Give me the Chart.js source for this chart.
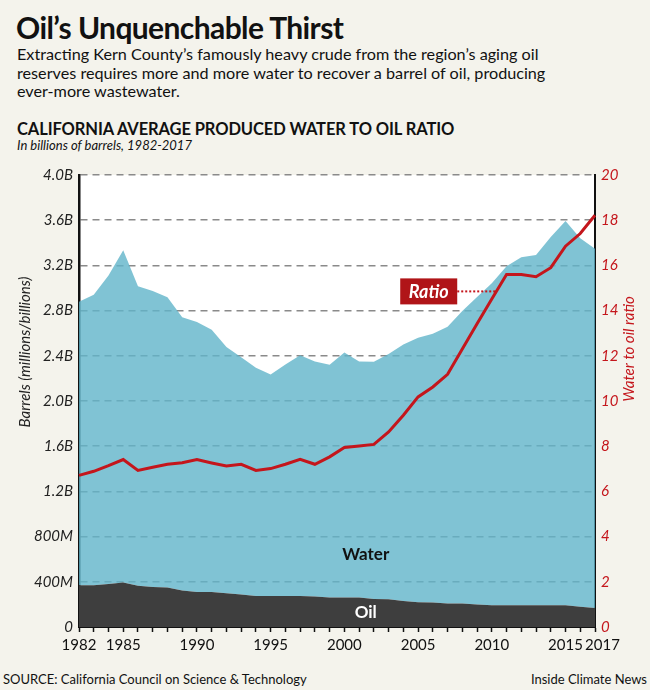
<!DOCTYPE html>
<html>
<head>
<meta charset="utf-8">
<script src="https://cdn.jsdelivr.net/npm/chart.js@4.4.1/dist/chart.umd.min.js"></script>
<style>
  html, body { margin: 0; padding: 0; }
  body { width: 650px; height: 690px; background: #f4f3ec; position: relative; overflow: hidden;
         font-family: Lato, "Open Sans", sans-serif; color: #111; }
  .t { position: absolute; white-space: nowrap; }
  #title { left: 16px; top: 9px; font-size: 30px; font-weight: 700; letter-spacing: -0.6px; }
  #dek { left: 17px; top: 45px; font-size: 16.2px; line-height: 18.5px; }
  #head { left: 17px; top: 119px; font-size: 16.5px; font-weight: 700; letter-spacing: -0.1px; }
  #sub { left: 17px; top: 137px; font-size: 13px; font-style: italic; }
  #src { left: 3px; top: 671px; font-size: 13px; }
  #credit { right: 3px; top: 671px; font-size: 13px; }
  #wrap { position: absolute; left: 0; top: 160px; width: 650px; height: 500px; }
</style>
</head>
<body>
<div class="t" id="title">Oil’s Unquenchable Thirst</div>
<div class="t" id="dek">Extracting Kern County’s famously heavy crude from the region’s aging oil<br>reserves requires more and more water to recover a barrel of oil, producing<br>ever-more wastewater.</div>
<div class="t" id="head">CALIFORNIA AVERAGE PRODUCED WATER TO OIL RATIO</div>
<div class="t" id="sub">In billions of barrels, 1982-2017</div>
<div id="wrap"><canvas id="chart" width="650" height="500"></canvas></div>
<div class="t" id="src">SOURCE: California Council on Science &amp; Technology</div>
<div class="t" id="credit">Inside Climate News</div>

<script>
// years on the x axis
const years = [];
for (let y = 1982; y <= 2017; y++) years.push(y);
const labelledYears = [1982, 1985, 1990, 1995, 2000, 2005, 2010, 2015, 2017];

// billions of barrels
const oil = [0.369, 0.37, 0.38, 0.393, 0.366, 0.354, 0.349, 0.322, 0.31, 0.31,
  0.298, 0.287, 0.274, 0.274, 0.274, 0.274, 0.27, 0.26,
  0.26, 0.26, 0.248, 0.245, 0.23, 0.219, 0.216, 0.207, 0.207, 0.20,
  0.192, 0.192, 0.192, 0.192, 0.192, 0.192, 0.18, 0.168];
const water = [2.51, 2.57, 2.73, 2.94, 2.65, 2.62, 2.57, 2.42, 2.39, 2.32,
  2.18, 2.10, 2.02, 1.96, 2.05, 2.13, 2.08, 2.06,
  2.17, 2.09, 2.10, 2.17, 2.27, 2.34, 2.38, 2.45, 2.59, 2.72,
  2.85, 3.00, 3.08, 3.10, 3.26, 3.40, 3.26, 3.18];
// water to oil ratio
const ratio = [6.71, 6.89, 7.14, 7.41, 6.93, 7.07, 7.20, 7.27, 7.41, 7.26,
  7.12, 7.20, 6.93, 7.01, 7.20, 7.42, 7.20, 7.53,
  7.94, 8.01, 8.08, 8.63, 9.37, 10.18, 10.62, 11.18, 12.3, 13.42,
  14.51, 15.6, 15.6, 15.5, 15.9, 16.85, 17.41, 18.22];

const barrelTicks = ['0', '400M', '800M', '1.2B', '1.6B', '2.0B', '2.4B', '2.8B', '3.2B', '3.6B', '4.0B'];
const ratioTicks = ['0', '2', '4', '6', '8', '10', '12', '14', '16', '18', '20'];

const RED = '#c4161c';
const FONT = 'Lato, "Open Sans", sans-serif';

// white plot background
const plotBg = {
  id: 'plotBg',
  beforeDraw(chart) {
    const { ctx, chartArea: a } = chart;
    ctx.save();
    ctx.fillStyle = '#fff';
    ctx.fillRect(a.left, a.top, a.right - a.left, a.bottom - a.top);
    ctx.restore();
  }
};

// text drawn inside the plot: area names, the "Ratio" call-out, axis titles
const notes = {
  id: 'notes',
  afterDatasetsDraw(chart) {
    const { ctx, scales: { x, y, y1 } } = chart;
    ctx.save();
    ctx.textAlign = 'center';
    ctx.textBaseline = 'middle';
    ctx.font = 'bold 17px ' + FONT;
    ctx.fillStyle = '#111';
    ctx.fillText('Water', x.getPixelForValue(19.45), y.getPixelForValue(0.64));
    ctx.fillStyle = '#fff';
    ctx.fillText('Oil', x.getPixelForValue(19.45), y.getPixelForValue(0.13));

    // Ratio call-out
    const ax = x.getPixelForValue(28.3), ay = y1.getPixelForValue(14.85);
    const bw = 57, bh = 26, bx = ax - 39 - bw;
    ctx.strokeStyle = RED;
    ctx.lineWidth = 2;
    ctx.setLineDash([2, 2]);
    ctx.beginPath();
    ctx.moveTo(bx + bw, ay);
    ctx.lineTo(ax, ay);
    ctx.stroke();
    ctx.setLineDash([]);
    ctx.fillStyle = '#b01418';
    ctx.fillRect(bx, ay - bh / 2, bw, bh);
    ctx.fillStyle = '#fff';
    ctx.font = 'italic bold 18px ' + FONT;
    ctx.fillText('Ratio', bx + bw / 2, ay + 1);

    // axis titles
    ctx.font = 'italic 15px ' + FONT;
    ctx.fillStyle = '#222';
    ctx.translate(25, 192);
    ctx.rotate(-Math.PI / 2);
    ctx.fillText('Barrels (millions/billions)', 0, 0);
    ctx.restore();

    ctx.save();
    ctx.font = 'italic 15px ' + FONT;
    ctx.fillStyle = RED;
    ctx.textAlign = 'center';
    ctx.textBaseline = 'middle';
    ctx.translate(629, 189);
    ctx.rotate(-Math.PI / 2);
    ctx.fillText('Water to oil ratio', 0, 0);
    ctx.restore();
  }
};

new Chart(document.getElementById('chart'), {
  type: 'line',
  data: {
    labels: years,
    datasets: [
      {
        label: 'Ratio',
        data: ratio,
        yAxisID: 'y1',
        borderColor: RED,
        borderWidth: 3,
        pointRadius: 0,
        fill: false,
        tension: 0
      },
      {
        label: 'Oil',
        data: oil,
        yAxisID: 'y',
        borderWidth: 0,
        pointRadius: 0,
        backgroundColor: '#3e3e3e',
        fill: 'origin',
        stack: 'barrels'
      },
      {
        label: 'Water',
        data: water,
        yAxisID: 'y',
        borderWidth: 0,
        pointRadius: 0,
        backgroundColor: 'rgba(96,180,201,0.8)',
        fill: '-1',
        stack: 'barrels'
      }
    ]
  },
  options: {
    responsive: false,
    animation: false,
    layout: { padding: { top: 15, left: 0, right: 0, bottom: 0 } },
    plugins: {
      legend: { display: false },
      tooltip: { enabled: false }
    },
    scales: {
      x: {
        offset: false,
        grid: { drawOnChartArea: false, drawTicks: true, tickLength: 5, tickColor: '#111', tickWidth: 1.5 },
        border: { color: '#111', width: 2 },
        ticks: {
          autoSkip: false,
          maxRotation: 0,
          padding: 4,
          color: '#111',
          font: { family: FONT, size: 15 },
          callback: (v, i) => {
            if (!labelledYears.includes(years[i])) return '';
            // last label sits a little right of its tick, as in the source
            return i === years.length - 1 ? '\u2002\u2002' + years[i] : String(years[i]);
          }
        },
        afterFit: (s) => { s.height = 33; }
      },
      y: {
        position: 'left',
        stacked: true,
        min: 0,
        max: 4,
        grid: { color: '#8a8a8a', lineWidth: 1.6, drawTicks: false },
        border: { color: '#111', width: 2.5, dash: [7, 5] },
        ticks: {
          stepSize: 0.4,
          padding: 6,
          color: '#222',
          font: { family: FONT, size: 15, style: 'italic' },
          callback: (v, i) => barrelTicks[i]
        },
        afterFit: (s) => { s.width = 79; }
      },
      y1: {
        position: 'right',
        min: 0,
        max: 20,
        grid: { drawOnChartArea: false, drawTicks: false },
        border: { color: '#111', width: 2 },
        ticks: {
          stepSize: 2,
          padding: 6,
          color: RED,
          font: { family: FONT, size: 15, style: 'italic' },
          callback: (v, i) => ratioTicks[i]
        },
        afterFit: (s) => { s.width = 55; }
      }
    }
  },
  plugins: [plotBg, notes]
});
</script>
</body>
</html>
